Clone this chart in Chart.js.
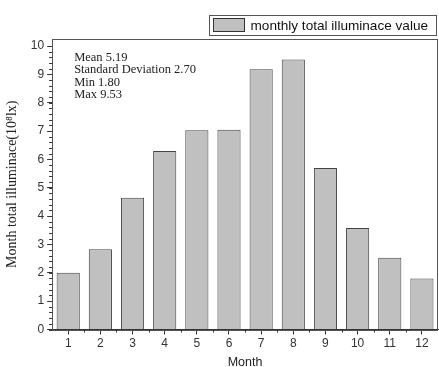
<!DOCTYPE html>
<html><head><meta charset="utf-8">
<script src="https://cdn.jsdelivr.net/npm/chart.js@4/dist/chart.umd.min.js"></script>
<style>html,body{margin:0;padding:0;background:#fff;}canvas{display:block;}</style>
</head><body>
<canvas id="c" width="439" height="367"></canvas>
<script>
const months = ['1','2','3','4','5','6','7','8','9','10','11','12'];
const illuminance = [2.00, 2.83, 4.65, 6.30, 7.03, 7.05, 9.18, 9.53, 5.70, 3.58, 2.53, 1.80];
const seriesLabel = 'monthly total illuminace value';
const statsLines = ['Mean 5.19', 'Standard Deviation 2.70', 'Min 1.80', 'Max 9.53'];
const yAxisTitle = 'Month total illuminace(10\u2078lx)';
const xAxisTitle = 'Month';
const yTickValues = [0, 1, 2, 3, 4, 5, 6, 7, 8, 9, 10];
const yMin = 0, yMax = 10.25, yMinorStep = 0.2;

const sans = 'Liberation Sans, Arial, sans-serif';
const serif = 'Liberation Serif, Times New Roman, serif';

const decor = {
  id: 'decor',
  afterDraw(chart) {
    const ctx = chart.ctx, a = chart.chartArea;
    const ys = chart.scales.y, xs = chart.scales.x;
    ctx.save();
    // frame
    ctx.strokeStyle = '#555';
    ctx.lineWidth = 1;
    ctx.strokeRect(Math.round(a.left) + 0.5, Math.round(a.top) + 0.5, Math.round(a.right - a.left) - 1, Math.round(a.bottom - a.top));
    // y minor ticks
    ctx.strokeStyle = '#333';
    const last = yTickValues[yTickValues.length - 1];
    for (let v = yMin; v <= last + 1e-9; v += yMinorStep) {
      const py = Math.round(ys.getPixelForValue(v)) + 0.5;
      ctx.beginPath(); ctx.moveTo(a.left - 3, py); ctx.lineTo(a.left, py); ctx.stroke();
    }
    // x minor ticks at category boundaries
    for (let i = 0; i < months.length - 1; i++) {
      const px = Math.round((xs.getPixelForValue(i) + xs.getPixelForValue(i + 1)) / 2) + 0.5;
      ctx.beginPath(); ctx.moveTo(px, a.bottom); ctx.lineTo(px, a.bottom + 3); ctx.stroke();
    }
    // stats text
    ctx.fillStyle = '#222';
    ctx.font = '12.5px ' + serif;
    ctx.textBaseline = 'middle';
    ctx.textAlign = 'left';
    statsLines.forEach((t, i) => ctx.fillText(t, a.left + 22, a.top + 18.5 + i * 12.4));
    // legend
    const lx = 209.5, ly = 15.5, lw = 227, lh = 20;
    ctx.strokeStyle = '#555';
    ctx.strokeRect(lx, ly, lw, lh);
    ctx.fillStyle = '#c0c0c0';
    ctx.fillRect(lx + 4, ly + 3, 31, 13);
    ctx.strokeStyle = '#333';
    ctx.strokeRect(lx + 4, ly + 3, 31, 13);
    ctx.fillStyle = '#111';
    ctx.font = '13.6px ' + sans;
    ctx.fillText(seriesLabel, lx + 41, ly + lh / 2 + 0.5);
    ctx.restore();
  }
};

new Chart(document.getElementById('c'), {
  type: 'bar',
  data: {
    labels: months,
    datasets: [{
      label: seriesLabel,
      data: illuminance,
      backgroundColor: '#c0c0c0',
      borderColor: '#444',
      borderWidth: 1,
      barPercentage: 0.72,
      categoryPercentage: 1.0
    }]
  },
  options: {
    responsive: false,
    animation: false,
    layout: { padding: { top: 39, right: 1, left: 4, bottom: 0 } },
    plugins: { legend: { display: false }, tooltip: { enabled: false } },
    scales: {
      x: {
        offset: true,
        grid: { display: true, drawOnChartArea: false, offset: false, tickLength: 5, color: '#333' },
        border: { display: true, color: '#333', width: 1 },
        ticks: { color: '#333', font: { family: sans, size: 12, lineHeight: 1 }, padding: 3, maxRotation: 0 },
        title: { display: true, text: xAxisTitle, color: '#222', font: { family: sans, size: 12.5, lineHeight: 1 }, padding: { top: 4, bottom: -2 } }
      },
      y: {
        min: yMin, max: yMax,
        afterBuildTicks: s => { s.ticks = yTickValues.map(v => ({ value: v })); },
        grid: { display: true, drawOnChartArea: false, tickLength: 5, color: '#333' },
        border: { display: true, color: '#333', width: 1 },
        ticks: { color: '#333', font: { family: sans, size: 12 }, padding: 3 },
        title: { display: true, text: yAxisTitle, color: '#222', font: { family: serif, size: 14 }, padding: { top: 0, bottom: 7 } }
      }
    }
  },
  plugins: [decor]
});
</script>
</body></html>
